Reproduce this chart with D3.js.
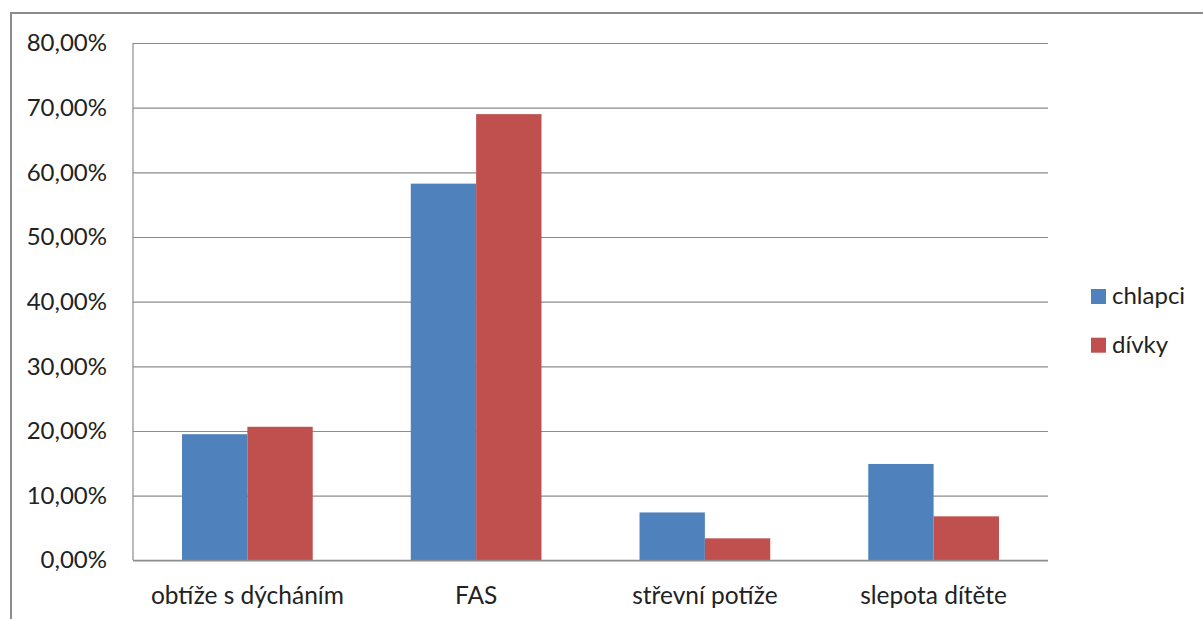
<!DOCTYPE html>
<html>
<head>
<meta charset="utf-8">
<script src="https://cdn.jsdelivr.net/npm/d3@7"></script>
<style>
  html, body { margin: 0; padding: 0; background: #fff; }
  svg { display: block; }
  text { font-family: Lato, "Open Sans", sans-serif; fill: #222; }
</style>
</head>
<body>
<svg id="chart" width="1203" height="619"></svg>
<script>
// Categories and series (share of children, %)
const categories = ["obtíže s dýcháním", "FAS", "střevní potíže", "slepota dítěte"];
const seriesNames = ["chlapci", "dívky"];
const chlapci = [19.5, 58.25, 7.4, 14.9];
const divky = [20.65, 69.0, 3.4, 6.8];
const yTicks = [0, 10, 20, 30, 40, 50, 60, 70, 80];
const colors = ["#4F81BD", "#C0504D"];

const svg = d3.select("#chart");
const W = 1203, H = 619;

// Outer chart frame
svg.append("rect")
  .attr("x", 11).attr("y", 13)
  .attr("width", W + 10).attr("height", H + 10)
  .attr("fill", "none").attr("stroke", "#8c8c8c").attr("stroke-width", 2);

const plot = { left: 133, right: 1048, top: 43, bottom: 560.3 };

const x = d3.scaleBand().domain(categories)
  .range([plot.left, plot.right]).paddingInner(0).paddingOuter(0);
// Gap width of 150% of a bar between clusters
const step = x.bandwidth();
const barW = step / 3.5;
const xs = d3.scaleBand().domain(seriesNames)
  .range([0.75 * barW, 2.75 * barW]);

const y = d3.scaleLinear().domain([0, 80]).range([plot.bottom, plot.top]);

// Horizontal gridlines
const yAxis = d3.axisLeft(y).tickValues(yTicks)
  .tickSize(-(plot.right - plot.left))
  .tickPadding(26)
  .tickFormat(d => d3.format(".2f")(d).replace(".", ",") + "%");

const gy = svg.append("g").attr("transform", `translate(${plot.left},0)`).call(yAxis);
gy.select(".domain").remove();
gy.selectAll(".tick line").attr("stroke", "#8c8c8c").attr("stroke-width", 1.2);
gy.selectAll(".tick text")
  .attr("font-size", 24).attr("fill", "#222")
  .style("font-family", "Lato, 'Open Sans', sans-serif");

// Vertical axis line
svg.append("line")
  .attr("x1", plot.left).attr("x2", plot.left)
  .attr("y1", plot.top).attr("y2", plot.bottom)
  .attr("stroke", "#8c8c8c").attr("stroke-width", 1.2);

// Bars
const data = categories.map((c, i) => ({ cat: c, values: [chlapci[i], divky[i]] }));
const groups = svg.append("g").selectAll("g").data(data).join("g")
  .attr("transform", d => `translate(${x(d.cat)},0)`);
groups.selectAll("rect")
  .data(d => d.values.map((v, j) => ({ name: seriesNames[j], v, j })))
  .join("rect")
  .attr("x", d => xs(d.name))
  .attr("width", xs.bandwidth())
  .attr("y", d => y(d.v))
  .attr("height", d => y(0) - y(d.v))
  .attr("fill", d => colors[d.j]);

// Baseline
svg.append("line")
  .attr("x1", plot.left).attr("x2", plot.right)
  .attr("y1", plot.bottom).attr("y2", plot.bottom)
  .attr("stroke", "#8c8c8c").attr("stroke-width", 1.2);

// Category labels
const xAxis = d3.axisBottom(x).tickSize(0).tickPadding(26);
const gx = svg.append("g").attr("transform", `translate(0,${plot.bottom})`).call(xAxis);
gx.select(".domain").remove();
gx.selectAll(".tick text")
  .attr("font-size", 24.5).attr("fill", "#222")
  .style("font-family", "Lato, 'Open Sans', sans-serif");

// Legend
const legend = svg.append("g").attr("transform", "translate(1091,289)");
const li = legend.selectAll("g").data(seriesNames).join("g")
  .attr("transform", (d, i) => `translate(0,${i * 48.7})`);
li.append("rect").attr("width", 15).attr("height", 15)
  .attr("fill", (d, i) => colors[i]);
li.append("text").attr("x", 21).attr("y", 15)
  .attr("font-size", 24).text(d => d);
</script>
</body>
</html>
